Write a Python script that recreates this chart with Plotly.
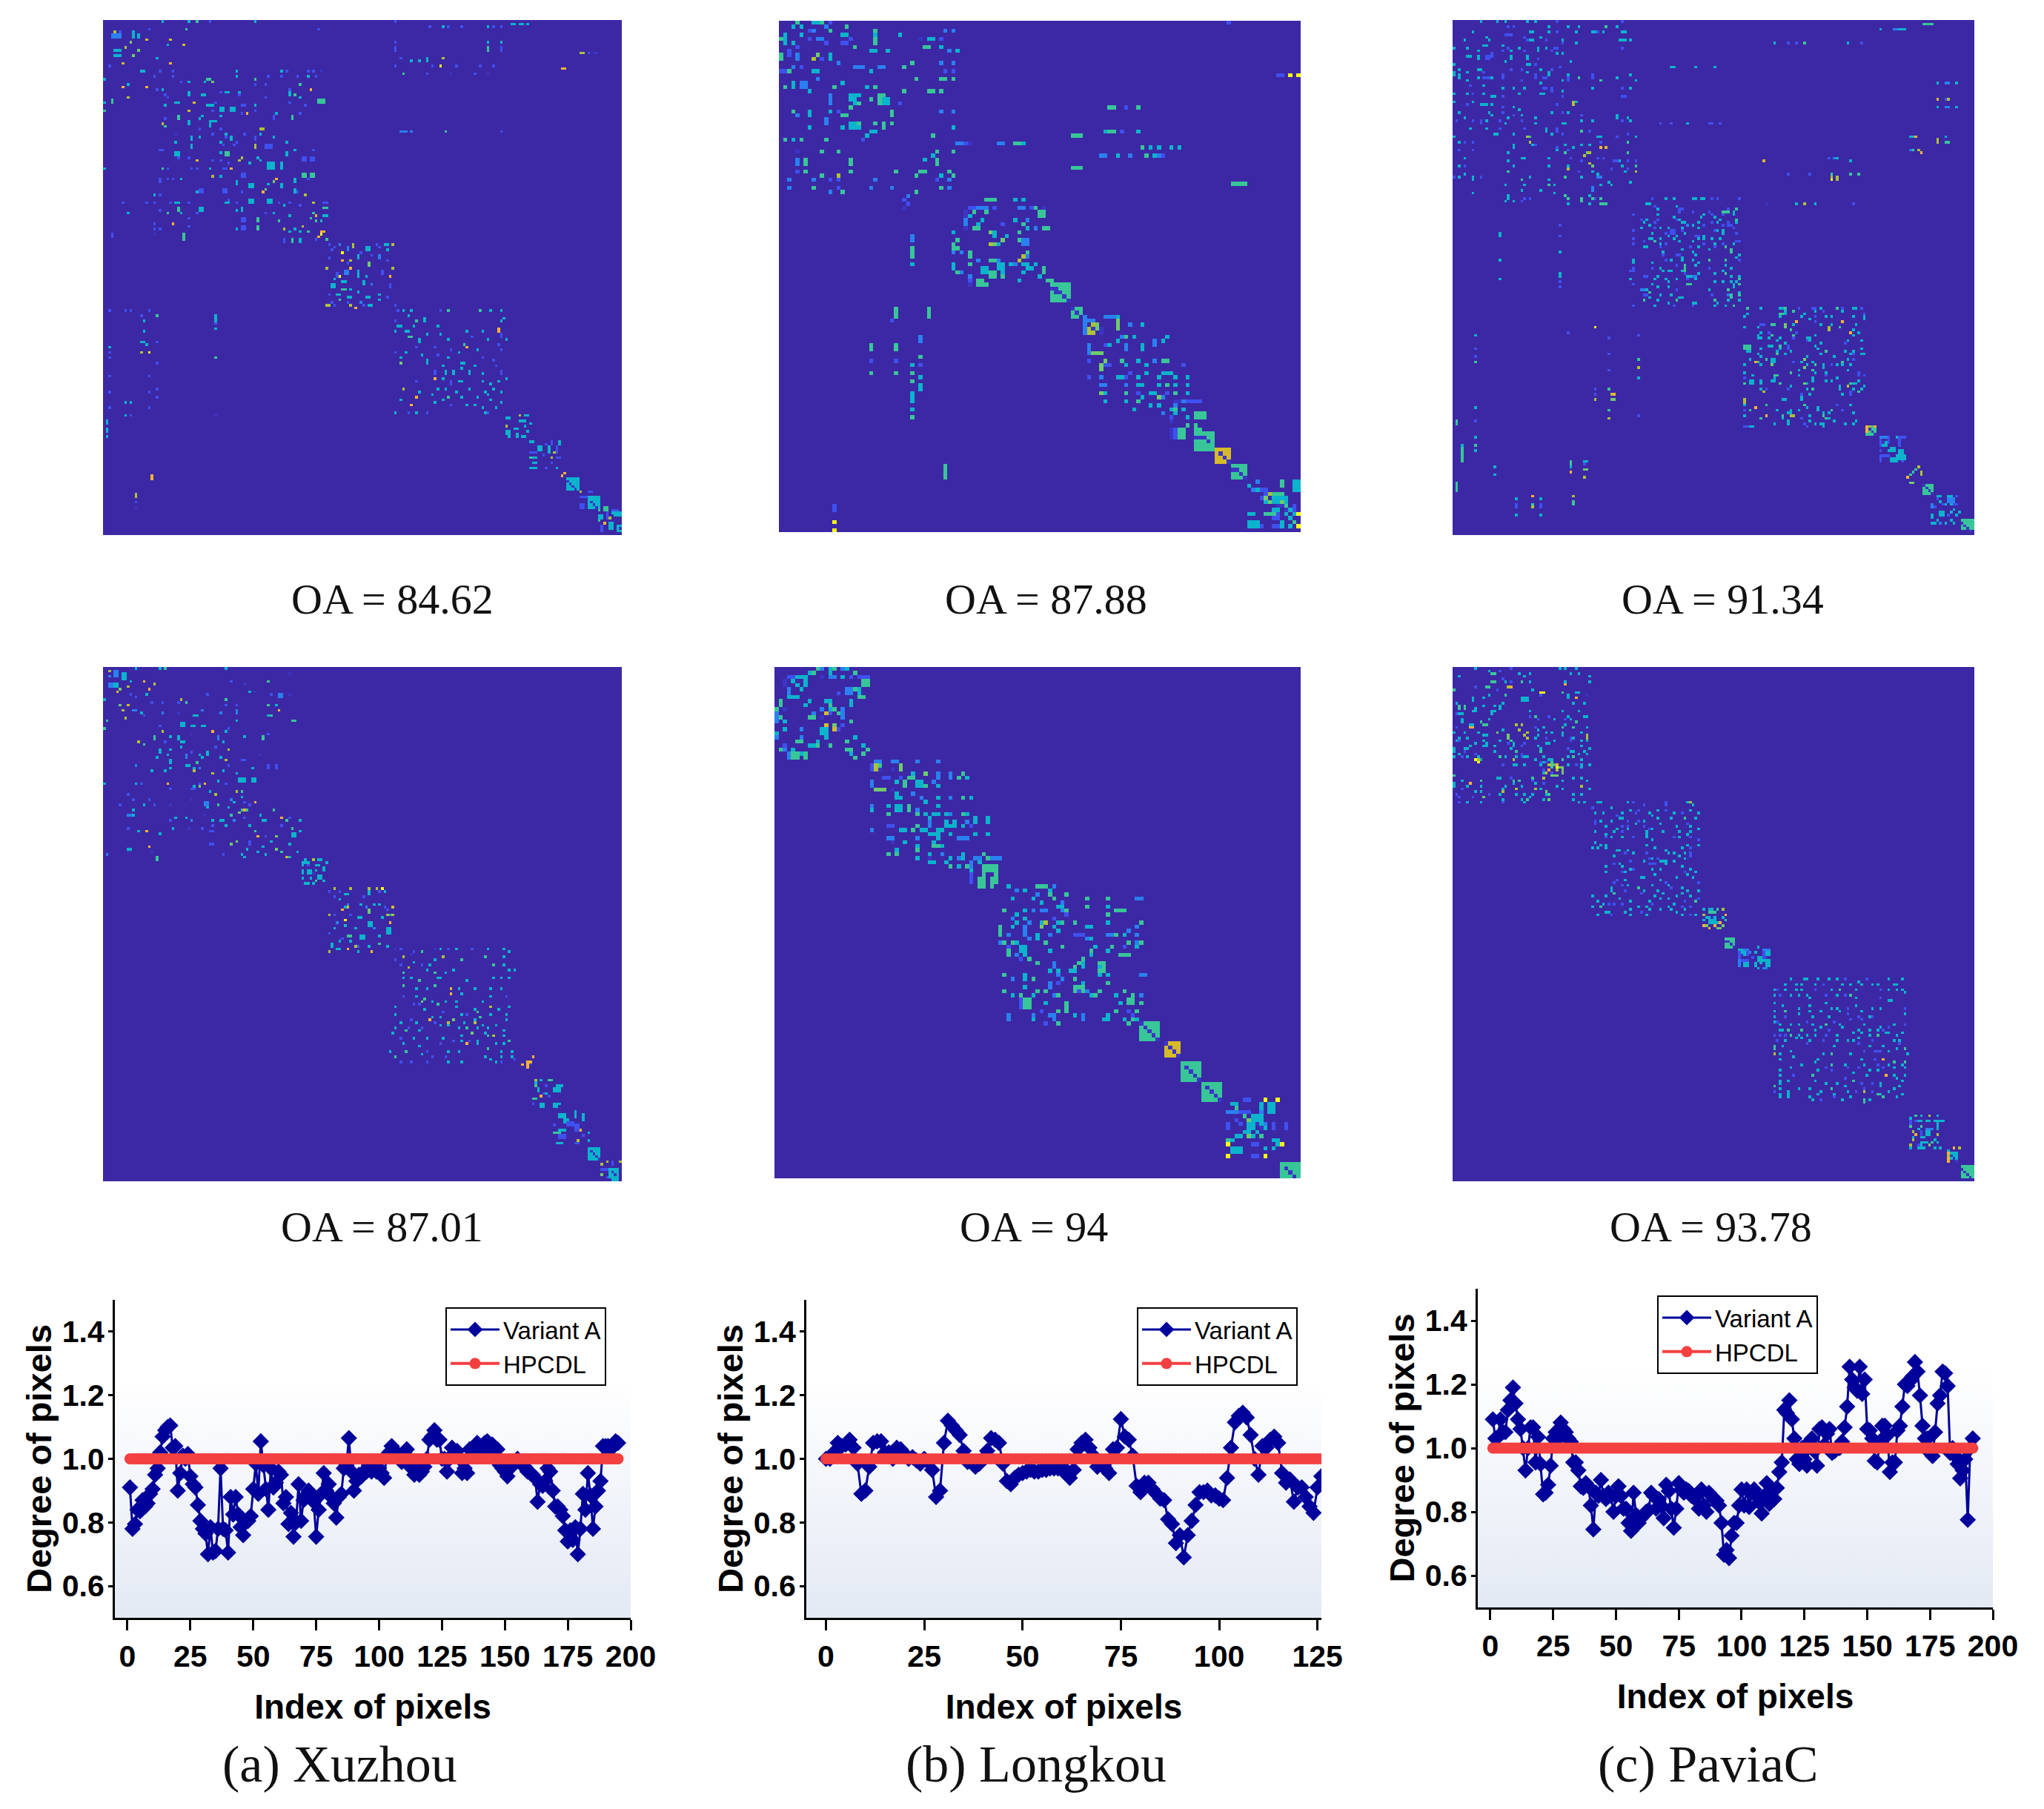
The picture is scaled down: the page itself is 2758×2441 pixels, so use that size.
import numpy as np
import plotly.graph_objects as go

WIDTH = 2758
HEIGHT = 2441

# matrix levels
D, B, L, C, T, G, O, Y, R, W = 0.07, 0.14, 0.25, 0.38, 0.5, 0.6, 0.72, 0.8, 0.88, 1.0

PARULA = [[0, "#3C28A4"], [0.07, "#3B35C4"], [0.14, "#3F50F0"], [0.25, "#2A80F0"],
          [0.38, "#0BB4CC"], [0.5, "#38C698"], [0.6, "#6FCB6C"], [0.72, "#ADC236"],
          [0.8, "#D6BA2A"], [0.88, "#FCB235"], [1, "#F9FB15"]]

# matrix cells: (col, row, level) or (col, row, level, width, height)
a1_cells = [
    (22,0,C),(32,0,C),(35,0,T),(40,0,B),(57,0,C),(17,3,B),(4,4,O),(6,4,B),(3,5,L,4,2),(11,4,C,1,3),(13,5,C,1,2),(31,3,T,1,1),(81,3,B),
    (16,7,Y),(25,7,Y),(10,8,G),(8,10,O),(24,9,C),(30,9,Y),(13,11,G),(4,11,C,3,1),(4,13,C,3,1),(11,13,G),(20,14,C),(7,16,Y),(25,16,R),(2,17,B),
    (14,19,C,2,1),(21,19,B),(26,19,B),(50,19,C),(67,19,C),(69,19,B),(77,19,B),(79,19,B),(82,19,D),(19,21,B),(26,21,B),(50,21,C),(62,21,B),(67,21,B),(73,21,B),(77,21,C),(80,21,B),
    (0,22,C),(39,22,T,2,1),(57,22,T),(29,23,B),(32,23,C),(38,23,C),(41,23,G),(9,24,C),(61,24,B),(57,24,B),(74,24,T),(7,25,R),(16,25,R),(20,26,B),(22,26,C),(78,26,R),(70,26,B),
    (32,27,C,1,2),(44,27,B),(46,27,C,2,1),(51,27,C),(70,27,C,1,2),(23,28,B),(37,28,C,2,1),(51,28,B),(72,28,T),(9,29,O),(61,29,B),(74,29,C),(24,29,B),(3,30,T,1,2),(81,30,T,3,2),
    (0,31,C),(27,31,C,2,1),(34,31,Y),(70,31,B),(42,31,B),(23,32,C),(39,32,C,3,1),(52,32,B,2,1),(57,32,C),(76,32,B),(44,33,C,2,2),(48,33,C,2,2),(0,34,T),(32,34,Y),(41,34,B),(57,34,B),
    (54,35,R),(52,35,B),(65,35,C),(74,35,B),(28,36,T,1,2),(37,36,C),(44,36,C),(64,36,B,1,2),(71,36,T,1,2),(23,37,B),(36,37,C),(40,38,C,3,1),(22,39,O),(23,40,T),(32,38,C,1,2),(40,39,C,1,2),
    (59,41,O,2,1),(36,41,B),(44,41,B),(59,43,C),(46,43,C),(53,43,B),(41,43,B),(27,43,D),(33,44,C,1,2),(36,44,C),(46,44,B),(48,44,C,1,2),(57,44,B,1,2),(64,44,C),(27,46,C),(44,46,C),(50,46,B),(69,46,C),
    (33,47,C,1,2),(45,47,B),(49,47,B),(57,47,O,1,2),(61,47,B,3,2),(21,49,B,2,1),(72,49,C),(79,49,B),(27,50,C,2,2),(44,50,C),(46,50,T,2,2),(69,50,C,1,2),(28,52,B),(32,52,B),(52,52,O),(51,53,O),(58,52,C),
    (75,52,B,2,2),(78,52,B,2,2),(35,53,Y),(41,53,B),(44,53,B),(59,53,C),(62,54,C,3,3),(67,54,C,1,3),(55,54,C),(47,54,B),(0,56,C),(22,56,T),(24,56,B),(33,56,B),(35,56,B),(40,56,C),(45,56,B,2,1),(48,56,R),
    (41,59,O),(44,59,C),(52,58,B,2,2),(75,58,T,2,2),(78,58,T,2,2),(21,60,B,1,2),(24,60,B),(26,60,B),(29,60,C),(65,60,R),(64,61,G),(72,60,C,1,2),(77,60,B),(50,61,C,1,2),(55,62,C,2,2),(62,62,C),(67,62,C,1,2),
    (36,64,B,2,2),(45,64,B,2,2),(61,64,G),(72,64,C,1,2),(60,65,R),(35,65,C),(52,65,B),(73,65,B),(21,66,B),(19,66,C),(76,66,O),(55,68,C,2,2),(62,68,C,2,2),(47,68,B),
    (19,69,B),(66,69,B),(70,69,B),(79,69,O),(83,69,B,2,1),(7,69,B),(16,69,B),(25,69,B),(27,69,C,2,1),(32,69,B),(46,69,C,2,1),(50,69,B),(28,71,T,1,2),(68,70,C),(74,70,B),(83,71,T,2,1),(36,71,C,2,2),(52,71,C,1,2),
    (21,72,B),(50,72,C),(61,73,B),(64,73,C),(79,73,T),(9,73,C),(24,73,T),(29,73,C),(35,73,B),(70,74,C),(80,74,Y),(83,74,C,2,1),(52,75,B,2,2),(58,75,T,1,2),(32,75,B),(78,75,T),(19,77,B),(66,76,T),(80,76,T),(82,76,C),
    (26,77,R),(52,78,B,2,2),(58,78,T,1,2),(75,78,O),(32,78,B),(19,79,B),(21,79,B),(68,79,O),(50,79,C),(72,79,C),(70,80,C),(74,80,C),(77,80,T),(82,80,R,2,1),(3,81,B,1,2),(30,81,T,1,3),(19,81,D),(82,81,W),(81,82,R),
    (68,83,B,1,2),(71,83,T,1,2),(74,83,C,1,2),(80,83,B),(84,83,T),
    (85,85,B),(89,85,L),(94,85,O,1,2),(103,85,B),(106,85,C,2,1),(109,85,O),(87,86,B),(92,86,L,1,2),(99,86,C,2,2),(86,87,B),(104,86,B),(107,87,C),(90,88,W),(97,88,B),(85,90,B),(96,89,C,1,2),(101,89,B),(104,89,L,1,2),
    (90,91,R),(93,91,O),(100,92,G,1,2),(107,91,B),(84,94,O),(92,92,B),(93,94,R),(109,94,O),(88,96,B,1,2),(91,95,L,2,2),(96,95,C,1,3),(99,97,C),(105,95,B,1,2),(108,97,R),(89,97,W),(87,98,C),(90,99,C,2,1),(86,100,C,2,2),
    (98,99,C,1,2),(101,100,L),(108,100,B,1,2),(90,102,T,2,1),(93,102,C),(96,103,C),(85,104,B),(88,104,C,2,1),(92,105,C,2,1),(99,105,C,2,1),(104,104,C),(107,105,B),(89,106,T),(86,107,B),(92,107,B),(97,107,L),(104,106,C),
    (84,108,O,2,1),(87,108,B),(93,108,O),(98,108,B),(100,108,C,2,1),(110,108,B),(95,109,R),
    (111,110,B),(113,110,C),(116,110,C),(127,110,B),(130,110,T),(142,110,T),(146,110,C),(150,110,C),(110,114,B),(115,112,C),(118,114,T),(121,113,C,1,2),(150,114,C),(151,113,C),(149,117,R,1,2),(111,116,C,2,1),(117,116,C),(126,116,C),
    (110,118,C),(114,118,C,2,1),(122,119,C),(127,119,C),(137,118,C),(143,118,C),(150,119,B,1,2),(115,120,T,2,1),(119,121,C,1,2),(130,121,C),(139,120,B),(145,121,C),(152,121,C),(149,123,B),(118,124,B),(136,123,T),(125,124,B),(137,124,R),
    (110,126,B),(114,126,C),(131,125,B),(134,126,C),(141,125,C),(150,125,B),(112,128,C),(120,127,C),(126,127,B),(143,128,B),(112,130,G),(130,128,C),(147,129,B),(122,129,C,1,2),(135,130,C,2,1),(140,131,C),(128,131,C),(148,131,B),
    (125,133,B,1,2),(129,133,C,1,2),(132,133,C,1,2),(135,132,C),(138,133,C,1,2),(143,134,C),(150,133,B,1,2),(118,137,B),(125,136,R),(131,137,B,1,2),(134,137,C,2,1),(128,136,C),(143,137,C),(149,137,C),(152,136,C),(146,138,C),
    (113,140,O),(119,141,C),(126,140,C),(129,140,C),(133,141,C),(138,140,C),(144,141,C),(147,140,C),(150,141,C),(118,143,R),(124,142,C),(130,143,T),(135,143,C),(141,143,C),(145,142,C),(112,144,C),(128,144,C),(140,146,C),
    (146,144,C),(150,145,C),(116,146,R,1,1),(125,145,C),(131,146,B),(137,146,C),(143,147,C),(148,147,C),(110,149,C),(115,149,B),(118,149,C),(122,149,B),(145,149,B),(144,149,C),
    (152,151,C,2,1),(157,150,O),(159,150,C,2,1),(157,152,C,3,1),(161,153,C),(152,154,O),(155,155,C,2,1),(159,154,C),(152,156,C,2,2),(156,157,C,1,2),(158,158,C,2,1),(160,156,C,1,1),(153,158,C),
    (161,160,C,2,1),(169,160,B,1,2),(172,160,C,1,2),(167,161,B),(164,162,C,2,2),(168,162,C,1,3),(171,162,B,1,3),(161,164,B,3,1),(170,164,O),(162,166,C,2,1),(161,166,T),(166,165,B),(169,166,O,1,1),(171,166,B,2,1),(162,168,C,2,1),(169,168,B),(161,170,C,3,1),(167,170,B),(171,170,C),
    (174,172,R),(173,173,R),(175,174,C,5,5),(175,175,D),(176,176,D),(177,177,D),(178,178,D),(180,179,O),(183,179,B,2,1),(180,181,B,3,1),(183,181,C,5,5),(184,183,D),(185,184,D),(186,185,D),(180,184,B,2,2),
    (187,186,T),(189,185,T,2,2),(192,186,B,3,1),(192,187,C,4,1),(187,188,C,2,2),(190,187,B,1,3),(193,188,C,3,1),(191,189,O),(189,191,R),(187,190,T),(188,192,B,1,3),(191,191,C,2,3),(194,192,C,2,3),(195,193,D),
    (110,0,B),(123,2,B,1,1),(128,2,C),(130,2,B),(135,2,B),(145,2,C),(147,2,B),(150,2,B),(154,1,C,2,1),(157,1,C,2,1),(160,1,C),
    (110,8,B),(145,8,C),(150,8,C),(110,10,B,1,2),(145,10,T,1,2),(150,10,B,1,2),(112,14,B),(116,15,C),(119,15,C),(122,14,C,1,2),(128,14,O),(110,17,B),(124,17,B),(127,17,W),(133,17,B),(142,17,B),(147,17,B),(180,12,O,2,1),(183,12,B),(185,12,D,2,1),(173,18,R,2,1),
    (113,20,T),(122,20,B),(131,20,D),(140,20,B),(145,20,D),(112,42,L,3,1),(116,42,L),(129,42,T),(150,42,B),
    (2,110,B),(8,110,B),(10,110,B),(17,110,B),(14,112,B),(20,112,T),(42,112,C,1,3),(42,115,B),(15,114,C),(42,117,C),(15,118,C),(14,122,C,2,1),(16,123,C),(20,122,B),(2,124,C),(2,126,B),(2,128,B),(14,126,O),(17,126,W),(42,128,T),(20,130,B),
    (2,135,B),(17,135,B),(20,140,B),(2,141,B),(17,141,B),(20,143,B),(8,145,C),(10,145,C),(2,147,B),(17,147,B),(8,150,C),(10,150,B),(42,150,D),(1,152,C,1,2),(1,155,C,1,2),(1,158,C),(18,173,R,1,2),(12,180,O,1,2),(12,183,B),(12,185,D),
]

a2_cells = [
    (12,0,C),(21,0,C),(23,0,T),(46,0,C),(2,1,O),(4,1,L,2,3),(7,2,C,2,3),(2,3,L),(2,6,L,2,2),(4,6,C,2,2),(10,5,C),(15,5,R),(19,6,O),(6,8,G),(9,7,O),(5,9,Y),(17,8,R),(62,5,T),(70,2,D),(48,5,B),(53,6,D),(10,10,B),(16,10,C),(12,11,B),(39,10,B),(55,9,C),(57,9,D),(63,10,B),(66,10,L,2,2),(70,10,D),
    (0,12,C),(6,14,G),(9,14,Y),(18,13,B),(22,13,B),(28,13,B),(29,12,O),(31,13,T),(46,12,T),(46,14,B),(50,14,B),(62,14,T),(65,14,C),(7,16,O),(11,16,L,2,1),(50,16,L,1,2),(66,16,R),(14,17,C),(22,17,L),(28,17,D),(37,16,L),(44,17,L),(62,18,C),(63,18,T),(1,20,T),(8,19,O),(15,18,B),(34,18,C,2,1),(71,20,T,2,1),(50,20,C),
    (0,23,T),(21,22,B),(29,21,C,2,2),(33,22,C,2,1),(37,22,C,2,1),(41,24,R),(47,23,B),(22,24,O),(19,26,T,1,2),(25,26,C,1,1),(28,26,C,1,2),(33,25,D),(43,26,L,1,2),(46,24,C),(53,26,C),(60,26,T,1,2),(62,25,B),
    (13,28,O),(15,29,T),(23,28,B),(29,28,C,2,1),(45,28,C),(21,31,C,1,2),(25,31,C),(29,30,C),(33,32,B),(36,33,C),(39,32,C,1,2),(42,30,B),(47,31,O),(20,34,C),(24,33,C),(31,33,L,1,2),(37,34,C),(44,34,C),(59,33,D),
    (25,35,C,1,2),(31,37,C,2,1),(35,36,T),(46,35,O),(52,35,B,2,1),(12,37,L),(25,38,C),(34,38,C),(36,38,L),(47,37,B),(56,38,C),(62,37,B,1,2),(65,37,B,1,2),(18,39,C),(23,39,C),(34,39,O),(41,40,O),(45,39,C),(50,40,C),
    (51,42,C,3,2),(56,42,C,2,2),(12,44,C),(14,44,B),(24,44,R),(34,45,C),(36,44,B),(38,44,R),(43,43,C),(46,44,B),(0,44,C),(25,46,B),(33,46,B,2,1),(36,45,G),(40,47,C),(50,47,O),(42,48,O),(52,47,T),(52,49,C),
    (9,48,B),(11,50,B),(17,50,B),(6,52,B),(15,52,C),(19,52,B,1,1),(25,52,D),(33,50,D),(38,51,L,2,2),(48,50,L),(49,51,C),(53,51,B),(55,52,B),(57,51,R),(39,53,C),(43,52,T),(47,53,C),(54,54,T),(11,54,C),(11,56,C),
    (52,54,T,2,1),(53,54,R),(64,54,T),(51,55,G),(48,56,T),(44,58,C,2,1),(41,58,C),(59,56,C,1,1),(9,56,L,2,1),(27,57,C),(38,56,D),(25,58,B),(31,57,C),(33,58,L),(49,58,L),(41,60,B,1,1),(53,57,B),(55,60,C),(60,58,C,2,1),(67,57,R),(70,57,B),(69,58,T),(74,58,C),
    (9,61,B),(13,62,C),(16,62,R),(21,63,C),(26,61,C),(32,61,D),(37,61,B),(40,62,B,2,1),(46,60,C),(57,62,T),(67,60,B),(71,61,T),(74,62,C),(65,64,G),(61,64,B),(55,66,B,1,2),(50,66,G),(58,64,R),(63,66,C),(71,63,C,2,2),
    (40,67,B,2,1),(48,67,G),(54,69,C),(60,68,C,1,1),(65,69,G),(67,70,T),(70,67,C),(73,70,C),(9,69,C,2,1),(17,68,R),(18,70,D),(9,70,D),(58,70,C),(52,71,C),(61,71,C),(20,72,T,1,2),(1,71,L,1,1),(53,72,C),(45,71,B),(70,72,C),(69,72,Y),
    (75,74,C,3,1),(76,73,C),(79,73,O),(81,73,C,2,1),(75,75,C),(77,75,B),(80,75,C,2,1),(84,74,C),(75,77,C,1,2),(77,77,C,2,2),(80,77,C),(83,76,C,1,2),(79,78,D),(81,79,C,2,2),(75,80,C),(78,80,C),(80,81,T),(83,81,C),(76,82,C,2,1),(79,82,C),
    (85,85,B),(87,84,O),(89,85,B),(93,84,O),(100,84,O),(103,84,O),(105,84,W),(87,87,B),(91,86,C,2,1),(100,85,C,1,2),(104,85,B),(106,85,C),(89,88,C),(98,87,B),(92,90,L),(91,91,C,2,1),(97,90,C),(99,91,L),(104,90,C),(109,91,Y),(106,91,B),
    (90,92,R),(92,91,Y),(102,90,C),(100,92,G,1,2),(107,92,B),(107,94,O),(108,94,C),(85,94,O),(87,94,B),(93,94,B),(91,96,W),(96,95,C,2,1),(105,95,C),(109,94,O),(88,97,L),(91,98,C),(100,97,C,2,2),(108,97,R),(87,99,C),(107,99,C,2,3),
    (85,101,B),(95,99,C),(102,99,L),(92,102,T,2,1),(97,102,C,2,2),(89,104,C),(104,102,C),(86,105,C,1,2),(90,103,B),(93,104,C),(100,106,C),(96,106,B),(104,105,T),(107,106,C),(88,107,C,2,1),(92,107,R,1,1),(95,106,O),(85,108,O),(101,108,R),(96,108,C),
    (110,107,D),(112,107,B,1,1),(116,109,D,1,1),(117,108,B),(120,108,T),(125,107,D),(127,107,C),(130,107,B),(133,107,C),(139,107,B),(145,107,C),(151,107,C),(110,111,B),(113,110,O),(117,112,C),(125,111,C),(128,110,O),(135,111,T),(144,110,T),(151,110,C),(153,108,C),
    (112,113,B),(115,114,O),(120,113,B),(123,113,C),(147,113,T),(151,113,C),(153,115,C),(113,116,T),(122,115,C),(125,116,T),(129,116,C),(132,115,C),(126,118,C),(150,118,C),(153,118,C),(113,118,C),(116,118,C),(119,119,T),(127,118,C),(137,119,C),(147,118,C),(155,115,C),
    (113,121,T),(118,122,C),(122,122,C),(125,121,T),(131,122,Y),(134,122,C),(140,122,C),(146,122,C),(150,122,C),(113,125,B),(118,125,C),(120,127,G),(121,126,T),(131,124,R),(135,124,C),(146,125,C),(152,125,B),(117,128,B),(124,127,C),(126,128,T),(129,127,C),(133,127,C),(143,127,C),
    (110,129,C),(119,128,B),(121,130,C),(128,131,B),(133,129,C),(140,130,C),(141,131,T),(146,129,O),(149,130,C),(153,129,C),(110,132,C),(124,133,C),(127,133,C),(135,132,C),(137,132,B),(142,133,T),(146,132,C),(152,132,C),(116,134,B),(123,134,R),(130,135,O),(132,134,G),(140,134,C),
    (112,135,C),(118,135,C),(125,135,B),(130,136,C),(136,135,C),(140,135,O),(143,136,C),(152,134,C),(110,137,C),(115,137,B),(120,137,B),(127,136,C),(134,137,C),(137,137,T),(141,137,C),(145,137,C),(148,136,C),(151,138,C),(109,139,C),(114,138,T),(119,138,C),
    (135,140,C),(139,139,G),(144,139,C),(147,140,O),(151,140,C),(112,141,B),(117,141,C),(122,141,C),(128,141,C),(132,142,B),(135,142,C),(138,142,B),(141,142,C,1,2),(145,140,T),(153,142,T),(113,143,C),(119,144,C),(127,143,B),(137,143,R),(148,143,C),(151,143,C),
    (108,146,C),(114,146,T),(122,146,B),(130,146,C),(134,146,C),(145,145,T),(150,146,C),(154,146,C),(110,148,T),(120,147,C),(124,148,B),(129,148,B),(144,148,C),(146,149,C),(150,148,C),(154,148,C),(112,150,B),(116,150,B),(122,150,B),(130,150,C),(135,150,C),(148,150,C),(150,150,B),(155,149,B),
    (160,150,R,2,2),(161,151,D),(158,151,R),(160,152,R),(162,148,R),(163,157,O),(163,159,T),(165,157,C),(168,157,T,2,1),(163,158,C),(164,160,C,1,2),(167,159,B,1,1),(171,159,C,3,1),(170,160,C,3,2),(167,162,C),(162,164,T,2,1),(165,163,R),(166,162,B),(168,163,B),(162,166,B),(165,166,C,2,2),(170,166,C,3,1),(170,167,C,2,1),
    (172,170,C,3,2),(170,174,T),(174,172,C,2,2),(178,169,C,1,3),(181,170,C,1,3),(175,173,B,3,2),(170,174,B),(172,176,C,3,1),(178,174,B,2,3),(180,176,R),(170,177,T,3,1),(172,178,B,3,2),(171,181,C,3,1),(178,181,B,2,1),(179,180,O),(181,178,B),(183,177,C),(183,180,C),
    (183,183,C,5,5),(184,184,D),(185,185,D),(186,186,D),(187,187,D),
    (188,189,O),(190,188,O),(192,188,B,1,2),(195,188,O),(188,191,B,4,1),(191,191,C,4,4),(192,192,D),(193,193,D),(188,193,G),(190,194,B,1,1),(192,194,C,3,2),
]

b1_cells = [
    (4,0,T),(8,0,C,2,1),(10,0,T),(12,0,B),(3,1,C),(5,1,C),(11,1,L),(16,1,T),(8,2,L,1,1),(7,2,B),(12,2,T),(23,2,T,1,1),(40,2,L),(42,2,L),(1,3,C),(5,3,C),(15,3,C,2,1),(23,3,C),(29,3,C),(23,4,T),
    (0,4,T),(1,4,C),(7,4,B),(9,4,L,2,1),(17,4,B),(34,4,D),(36,4,C,2,1),(39,4,B),(1,5,C),(3,5,C),(11,5,B),(15,5,B,2,1),(18,6,T),(4,6,B),(23,5,T),(35,6,T,2,1),(39,6,C),
    (2,7,B,1,2),(22,7,C,2,1),(26,7,C),(41,7,L),(43,7,C),(0,8,T,1,2),(4,8,L,1,2),(9,8,G,1,1),(12,8,C,1,2),(8,9,O),(10,9,B),(14,10,L),(3,11,L),(5,11,B),(18,11,L,3,1),(24,11,L,2,1),(30,11,T),(32,10,T),(39,10,L),(42,10,L),
    (1,12,B),(0,12,B),(2,12,T),(8,12,C,2,1),(22,12,C),(40,12,B),(42,12,B),(9,14,L),(33,14,T),(39,14,T,2,1),(42,14,T),(1,16,T),(3,15,C,1,2),(5,15,L,2,2),(13,16,T),(15,15,C,1,1),(23,16,T),(7,17,C),(30,17,T),(21,16,C),(36,17,T,2,1),(39,17,T),
    (12,18,L,1,3),(19,18,C),(17,18,C,2,2),(22,19,T),(24,18,T,2,3),(25,19,C,2,2),(18,20,T,2,1),(18,20,C),(17,21,T),(29,20,B),(3,22,T),(4,23,L),(7,22,C,1,2),(12,22,C),(27,22,T),(39,22,L),(42,22,L),(14,22,B),(15,23,T,2,1),(27,23,T,1,1),
    (11,24,L,1,2),(17,25,C,3,2),(19,25,T),(23,25,T),(27,25,T),(25,25,T),(7,26,C),(15,26,C),(42,26,C),(22,27,C,2,1),(25,26,T),(21,28,C),
    (1,29,T),(3,29,C),(5,29,T),(11,29,T),(20,29,B),(37,28,T),(44,30,L),(46,30,D),(53,30,L,2,1),(57,30,T,3,1),(59,30,C),
    (4,32,D),(10,32,T),(14,32,T),(38,32,T),(42,32,T),(4,34,L,1,2),(6,34,T,1,2),(17,34,T,1,2),(35,34,C),(37,33,C),(38,34,T,1,2),(4,37,B),(6,37,T),(28,37,T),(10,38,T),(14,38,O),(17,37,T),(34,37,T,2,1),(39,38,C),(41,37,T,1,1),
    (2,39,L),(8,39,L),(12,39,B),(14,39,B),(23,39,L),(33,38,T),(38,39,B),(41,39,L),(42,38,T),(2,41,L),(8,41,T),(12,42,L),(14,41,B),(15,42,T),(22,41,L),(27,41,L),(33,42,T),(39,41,T),(41,41,L),(31,43,L),
    (31,45,B),(50,44,T,2,1),(52,44,T),(57,44,C),(59,44,C),(46,46,B,2,1),(48,46,L,3,1),(62,46,T),(52,46,B,1,1),(58,46,L,2,1),(61,46,B),(64,46,D,1,1),(45,47,D,1,2),(47,47,T),(50,47,T),(63,47,T,2,2),(46,48,C),(49,49,C),(57,49,C),(60,49,C),
    (45,49,L,1,2),(48,50,C),(54,50,B),(60,49,L),(59,50,T),(45,51,B),(47,51,T,2,1),(64,51,T,2,1),(42,52,C),(51,52,G),(52,52,C),(60,51,C),(62,51,L),(45,51,D),(55,53,C),(58,52,T),(43,54,T,1,1),(42,55,T,1,2),(52,53,C),(51,55,O),(53,55,C),(58,54,T),
    (59,54,L,2,2),(60,55,L),(52,55,G),(54,54,G),(32,53,L,1,2),(43,56,T),(60,57,T),(44,57,L,1,1),(46,57,T,1,2),(42,57,L),(32,56,T,1,3),(59,58,O),(58,59,O,1,1),(60,58,L),(51,59,T,2,1),(48,59,L),
    (53,59,L,1,1),(57,60,L,1,1),(32,60,C),(56,60,C),(59,60,C,2,1),(42,60,C,1,2),(46,60,T),(44,62,L),(49,61,C,2,2),(53,60,C,2,2),(60,61,C),(62,60,C),(64,61,T,1,2),(43,62,T),(51,62,T,2,2),(59,62,C),(61,61,C),(54,62,C),(46,63,L),
    (46,64,B),(48,64,T,2,2),(50,65,T),(54,63,T),(58,64,C),(66,64,T),(63,63,C),(65,64,T,1,1),(46,65,D),(66,65,C),
    (66,65,T,5,5),(66,66,D),(67,66,D),(67,67,D),(68,67,D),(69,68,D),(70,69,D),(66,65,T),(67,65,T),
    (72,71,T),(71,72,T),(71,71,D),(73,71,T,1,2),(71,73,T,2,1),(72,72,D),(74,74,L,1,1),(74,75,L,1,3),(75,74,L,2,1),(76,75,O,2,2),(75,76,O,2,2),(76,76,D),(77,76,G),(77,75,G),(74,73,L),(79,73,L,3,1),(82,73,C,1,1),(82,74,G,1,3),(78,76,D,1,2),
    (85,75,L),(88,75,C),(84,78,T),(83,78,L),(86,78,C),(82,79,C),(80,80,C),(78,82,C),(79,80,B),(75,80,L,1,3),(76,82,G,3,1),(84,80,L,1,2),(88,80,C,1,2),(91,79,L,1,2),(93,79,C),(94,78,C),(79,84,G,1,1),(78,85,G,1,2),(79,85,B,2,1),(75,84,B),(83,84,T),(84,85,C),
    (87,84,C),(89,85,C),(91,84,L),(93,84,T,2,1),(85,87,C),(89,87,C),(82,88,C,2,1),(75,88,B),(78,88,L),(84,88,B),(85,87,B),(87,88,C),(98,85,B),(93,87,C),(94,87,C),(95,87,C),(92,88,C,1,1),(96,88,C),(99,88,C),(88,90,C),(92,90,C),(94,90,T),(96,90,C),(99,90,C),
    (78,90,L,1,1),(79,90,L),(84,90,L),(87,90,C),(78,92,G,1,1),(79,92,C),(84,92,T),(87,92,B),(91,92,C),(94,92,B),(99,92,C),(92,95,C),(95,96,C),(96,95,L),(88,93,C),(90,92,C),(87,94,T),(84,94,C),(92,93,G),(93,93,L),(79,94,C),(86,96,C),(90,95,C),(96,92,T),
    (96,94,D,3,1),(98,94,L,1,1),(99,94,B),(100,94,B,3,1),(93,97,T),(96,96,T),(98,96,C),(96,97,C,1,1),(93,97,L),(99,98,C),(101,97,T,3,2),(99,100,T),(95,98,B,1,2),(95,99,D),(96,101,B,1,3),(95,101,D,1,3),(97,101,T,2,3),(101,100,T),(102,101,T),
    (101,102,T,5,5),(101,103,D),(102,103,D),(103,103,D),(104,104,D),(101,101,T),
    (106,106,Y,4,4),(106,106,Y),(107,107,D),(108,108,D),(109,109,D),(110,110,T,4,4),(110,111,D),(111,111,D),(112,112,D),(113,113,D),
    (116,114,L),(114,115,C),(116,116,C),(115,116,L),(117,116,B,2,1),(114,115,C),(122,114,T,1,2),(125,114,C,2,3),(117,118,B),(118,117,B,1,1),(120,117,T,3,1),(118,118,G),(119,117,O),(118,119,C,1,1),(120,118,C,4,2),(119,119,G),(122,119,G),(121,120,D),(123,120,T),(122,120,D),(120,121,C,2,1),(123,121,D),
    (124,121,C),(123,122,C),(125,120,B,1,2),(118,122,T,3,1),(120,122,T),(121,122,B),(114,122,C,2,1),(114,124,C,3,2),(120,123,B,2,1),(122,124,C,1,1),(125,122,C,2,1),(124,123,C),(125,124,T),(126,122,W),(126,125,W),(122,125,C),(124,125,C),(117,125,B),(120,125,B,2,1),
    (109,0,B),(121,13,B,2,1),(124,13,W),(126,13,W),(80,21,T,2,1),(84,21,B),(87,21,T),(79,27,C),(80,27,T,2,1),(83,27,B),(87,27,C),(71,28,T,3,1),(43,30,L),(45,30,B),(53,30,L),(88,31,T),(90,31,C),(92,31,C),(95,31,C),(97,31,C),
    (78,33,L,2,1),(82,33,C),(85,33,L),(89,33,T,1,1),(91,33,C),(92,33,L,2,1),(93,33,B),(71,36,T,3,1),(110,40,T,4,1),
    (30,44,B),(30,46,D),(28,71,T,1,3),(36,71,T,1,3),(27,74,B),(22,80,T,1,2),(28,80,T,1,2),(34,78,L,1,2),(22,84,B),(28,84,B),(34,83,T),(34,85,B),(22,87,T),(28,87,T),(32,85,C),(32,87,T),(34,88,C),(32,89,T),
    (32,94,C),(34,90,C,1,2),(34,91,C),(32,92,C,1,1),(32,93,C),(32,96,C),(32,98,T),(40,110,T,1,4),(13,120,B,1,2),(13,124,W),(13,126,W),
]

b2_cells = [
    (10,0,T),(11,0,L),(13,0,C),(14,0,T),(16,0,L),(17,0,C),(8,1,C),(9,1,T),(13,1,C),(19,1,T),(3,2,B,2,1),(5,2,C,3,1),(11,2,D),(13,2,L,2,1),(16,2,C),(18,2,B),(20,2,B),(21,2,B,2,1),(2,3,D,1,2),(4,3,C),(7,3,C,1,2),(21,3,T,2,2),
    (3,5,L,1,2),(5,4,C),(6,5,C),(15,6,B),(17,5,L,2,2),(19,5,T),(20,5,C,1,2),(3,7,C),(4,7,C,2,1),(20,7,T,2,1),(8,8,C),(12,8,C,2,1),(1,8,T,1,2),(13,9,T),(18,8,C,1,2),(7,9,C),(11,10,L),(13,10,C),(0,10,T),(2,10,D),(14,10,T,1,1),(15,11,T,2,1),(16,10,L),
    (0,11,L,1,2),(1,12,T),(16,11,L,1,2),(8,12,T,2,1),(9,11,L),(11,12,D),(12,11,Y),(13,11,B),(18,13,T),(0,13,L,1,1),(2,13,C),(2,15,C),(6,15,L),(11,15,C,2,2),(14,14,G),(12,14,Y),(15,15,B),(16,14,B,1,1),(0,16,C,1,1),(14,15,Y),
    (0,17,L),(12,17,C),(10,18,C),(17,18,T),(19,17,C),(5,18,T,2,1),(6,17,L),(2,19,B),(8,19,C,2,1),(10,19,T),(13,19,T),(17,20,T,2,1),(4,20,C),(1,20,T),(18,21,C),(5,21,C,2,1),(2,20,L),(21,19,C),(3,21,L,1,2),(3,22,L),(4,21,T,2,2),(7,21,T),(7,22,T),(19,22,T,1,1),(21,21,T),(22,20,T),
    (24,23,L,2,1),(28,23,L,2,1),(34,23,L),(39,23,L),(23,24,B,1,2),(24,24,O,2,2),(25,24,T,1,1),(25,25,D),(30,24,G,1,2),(28,25,D,1,1),(33,26,C),(36,26,G),(39,26,L,1,2),(42,26,L,1,2),(45,26,T),(44,27,T),(46,27,C),(26,27,B,2,1),(30,27,B),(32,27,T),(33,27,T),
    (23,28,L,1,2),(29,28,C),(31,28,T,1,2),(34,28,C,2,2),(24,30,G,3,1),(38,28,L),(39,29,C),(28,30,D),(36,29,T),(29,31,C),(35,32,L,1,1),(39,32,C),(29,32,C,2,1),(33,31,L),(42,32,L),(45,32,T),(47,32,C),(23,34,L,1,1),(27,34,C),(29,34,C,2,2),(32,34,T,1,2),(34,35,L),(39,34,C,1,1),(36,33,C),
    (23,35,C),(27,36,T),(34,36,T),(36,36,C),(38,36,C),(39,36,C),(41,36,C),(45,36,T),(37,37,C),(42,36,L),(46,36,C),(41,38,C,1,2),(43,38,C,1,2),(37,38,L),(48,37,C,1,2),(51,37,C,1,2),(27,39,B,2,1),(30,40,C,2,1),(33,40,T),(34,39,T),(35,40,C,2,1),(37,39,L),(42,39,C),(45,39,C),(47,39,B),
    (23,40,L),(39,40,C,2,1),(46,38,L),(27,42,L,2,1),(31,43,C),(34,42,L),(37,41,C,3,1),(39,42,C),(42,41,C),(44,42,L,2,1),(48,41,C),(51,41,C),(28,43,D),(38,43,C),(46,42,L),(29,45,C),(34,45,T),(34,44,C),(38,44,T,2,1),(40,44,C),(29,46,T),(27,46,T),(34,47,C),(37,46,C,1,1),(40,46,L),(45,46,C),(44,47,L),
    (37,47,D),(42,47,C),(45,47,C),(37,48,C,2,1),(41,48,C),(48,47,L,2,1),(51,47,T),(50,46,T),(52,47,L,3,1),(47,48,L,1,2),(46,49,T),(42,49,T),(44,49,C),(49,48,C),(50,49,T),(47,50,C,1,1),(50,50,T),(51,49,T,3,2),(47,51,B,1,3),(50,51,T,1,1),(49,52,D,1,1),(49,52,T,2,3),(52,52,T,2,1),(53,51,T),(52,53,T,1,2),(53,53,T),
    (56,54,C),(63,54,T,3,1),(67,54,L),(60,55,C),(58,55,L),(66,55,C),(70,56,T),(63,56,L),(57,57,C),(75,57,T),(80,57,T),(62,57,C),(66,56,T),(67,57,T),(87,57,L,2,1),(69,58,L),(64,58,C),(60,60,C),(68,59,C,2,1),(55,60,T),(70,60,T),(58,61,C),(62,60,L),(75,59,T),(64,60,L,2,1),(69,60,L),(82,60,T,3,1),(80,61,T),
    (80,59,C),(70,61,B),(69,63,T,1,1),(57,62,L),(58,63,C),(60,62,C),(61,63,L),(64,63,C),(67,62,B),(72,63,T),(75,64,C,2,1),(80,63,C),(54,64,T,1,3),(57,64,C),(60,64,L,1,3),(64,64,G),(65,63,O),(67,64,C),(68,63,C),(87,64,L),(88,63,T),(68,65,C),(63,66,C),(66,66,L,1,1),
    (56,66,L),(61,67,L),(72,66,B,3,1),(75,67,L),(76,67,C),(80,66,L,2,1),(85,65,L),(82,66,T),(84,66,C),(87,66,L),(55,68,T),(63,67,C),(65,68,T),(87,68,L,2,1),(54,68,L),(57,68,T),(85,68,T),(58,68,C),(81,69,T),(87,69,C),(88,68,T,1,1),(56,69,B),(66,70,C),(84,69,B),
    (56,70,T,1,2),(59,69,C,2,2),(60,71,C),(69,69,T),(76,70,T),(77,69,C),(76,71,C),(80,70,C),(58,71,L),(59,72,B),(61,72,T),(83,71,T,3,1),(67,73,L,1,2),(63,73,T,1,1),(73,73,T),(74,73,C,1,2),(74,72,T),(78,73,T,2,3),(71,75,C,2,1),(78,76,C),
    (72,74,T),(78,74,C),(66,75,C),(68,75,C),(55,76,T),(57,77,L),(60,76,C,1,2),(72,77,T),(68,76,L,1,1),(80,76,C),(88,76,L,2,1),(62,77,T),(69,77,L,1,1),(80,78,T),(68,78,B),(72,79,T,3,2),(74,78,C),(66,78,L,1,2),(78,80,T),(77,81,T),(76,81,C),(75,80,L),
    (67,81,L),(60,79,C),(55,80,T),(57,81,C,1,1),(59,81,T),(62,81,C),(65,80,T),(63,80,T),(68,81,T),(73,80,B),(82,81,C),(84,80,T),(88,81,L),(83,83,T),(85,82,T,2,2),(86,81,T),(83,83,C),(59,82,B,1,3),(60,82,T,2,3),(70,83,T,1,3),(59,83,B),(65,83,C),(88,83,T),
    (64,85,B),(68,85,T),(72,86,C),(82,85,T),(86,86,B),(85,85,B),(87,85,T),(56,86,L,1,2),(62,86,L),(66,86,L,2,1),(74,86,L,1,2),(84,87,C),(79,87,C),(65,88,B),(68,88,T),(80,87,C),(86,87,T),(85,88,T),(87,87,C),(80,86,C),(62,87,C),(67,87,L),
    (88,88,T,5,5),(89,89,D),(90,90,D),(91,91,D),(92,92,D),(88,88,D,1,1),(94,93,Y,4,4),(95,94,D),(96,95,D),(97,96,D),(94,93,D),(98,98,T,5,5),(99,99,D),(100,100,D),(101,101,D),(102,102,D),(103,103,T,5,5),(104,104,D),(105,105,D),(106,106,D),(107,107,D),
    (113,107,B,2,1),(118,107,W),(121,107,W),(110,108,C,2,1),(111,109,T,1,1),(117,108,C,1,3),(119,108,C,2,3),(109,110,C,2,1),(112,110,B,3,1),(109,110,L,3,1),(117,110,L),(111,112,B),(113,111,T),(114,112,G),(115,111,C,3,3),(114,113,C,2,2),(116,113,D),(117,114,D),(118,113,C,1,2),(109,113,B,1,2),(112,113,B,1,1),
    (118,113,L),(120,113,B,1,2),(123,113,B,1,2),(113,115,C,2,1),(116,115,C,1,1),(110,117,C),(114,116,G,2,1),(109,117,T),(111,116,C,2,1),(115,116,C),(117,116,T),(120,117,C,2,1),(109,118,W),(122,118,W),(110,119,C,3,2),(115,118,B,2,1),(118,119,C),(120,119,C),(121,118,C),(109,121,W),(118,121,W),(115,121,B,2,1),
    (122,123,T,5,1),(122,124,T,5,3),(123,124,D),(124,125,D),(125,126,D),
]

c1_cells = [
    (10,0,C),(16,0,C),(19,0,C),(27,0,C),(30,0,C),(38,0,B),(62,0,B),(20,2,B),(22,2,B),(35,2,C),(42,2,C),(46,2,C),(56,2,T),(60,2,C),(173,1,T,4,1),(157,3,C),(162,3,L,2,1),(164,3,C,3,1),
    (7,4,C),(28,4,C,2,1),(20,5,B),(35,4,C),(38,4,B),(45,4,C),(51,4,C,2,1),(53,4,B),(55,4,C),(62,4,C,2,1),(12,6,C),(19,5,B,2,1),(21,5,B),(26,6,B),(32,6,C),(27,7,B),(34,7,B),(40,7,C),(4,7,C),(13,7,C),(28,7,C,2,1),(40,8,B),(45,8,C),(61,7,C,2,1),(63,7,C),(65,7,C),(118,8,C),(123,8,B),(126,8,B),(129,8,T),(145,8,C),(150,8,B),
    (0,10,C),(5,10,C),(11,9,C,2,1),(18,9,C),(20,10,B),(24,10,C),(31,10,C),(34,10,C),(37,10,B,2,1),(62,10,B),(9,11,C),(18,11,B),(21,11,C),(26,11,B),(31,11,C),(36,11,B),(38,12,C),(40,12,C),(5,13,C),(6,13,C),(9,13,C,1,2),(12,13,B,2,2),(14,12,B,1,2),(21,13,C,1,2),(27,13,C,1,2),(31,14,B),
    (0,16,C),(19,15,C),(27,16,C,2,1),(30,16,B),(43,15,C),(2,18,C),(9,18,C,2,1),(11,19,B,1,1),(21,18,B),(25,18,B),(32,18,C),(36,18,B),(39,17,B),(80,17,C,2,1),(89,17,C),(96,17,C),(0,19,C),(5,19,C),(18,20,B),(27,19,C),(30,20,B,1,2),(35,19,C),(42,20,C),(0,20,C),(2,20,C,1,2),(9,21,C),(11,21,B,3,1),(14,21,C),(18,21,B),
    (35,20,C),(42,21,B,1,2),(46,21,T),(51,20,B,1,2),(60,21,C),(65,20,C),(54,22,T),(67,22,C),(5,22,C),(25,22,B),(33,21,B,2,1),(32,23,C),(40,22,C),(178,23,C,1,1),(181,23,L,2,1),(185,23,C),
    (6,24,B),(11,24,B),(11,24,C,1,1),(18,25,C),(22,25,C),(26,25,C),(33,25,B,2,1),(36,25,B,1,2),(40,26,C),(62,25,B),(65,25,C),(51,25,C),(0,27,C),(5,27,C),(7,27,B,1,1),(11,27,C),(14,28,C,2,1),(18,28,B),(24,27,C),(32,27,C,2,1),(40,28,B),(62,28,B,2,1),(178,29,Y),(181,29,B),(182,29,O),
    (0,30,C),(5,31,B),(7,30,C),(10,31,C,3,1),(14,31,C),(18,32,B),(22,32,C),(24,33,C),(38,31,B),(44,30,O,1,2),(45,30,C),(178,32,C),(181,32,L,2,1),(185,32,C),(2,34,C),(13,34,C),(18,34,B),(22,35,B),(36,34,C),(40,34,B),(47,35,B),(42,34,C,1,1),
    (4,36,C),(14,35,C),(20,36,C),(25,35,C),(30,36,C),(60,35,C,1,2),(64,36,C),(62,37,B),(65,37,C),(1,37,B),(7,37,B),(10,37,B,1,2),(12,37,C),(17,37,B),(19,38,C),(25,37,B),(30,38,C),(40,38,C,2,1),(47,37,C),(51,37,C),(76,38,B),(80,38,B),(86,38,C),(94,38,B,2,1),(98,38,B),
    (6,40,C),(12,40,C),(17,40,B),(26,40,B),(34,40,C,1,2),(38,40,B,1,2),(47,41,T),(50,41,B),(64,42,B),(0,43,C),(15,42,C,2,1),(22,42,C),(28,43,T),(27,43,O),(36,42,C),(40,42,B),(53,43,C,2,1),(60,43,B),(67,43,C),(168,43,C,2,1),(170,43,R),
    (2,45,C),(4,45,B),(7,45,B),(22,46,C),(28,45,O),(29,46,C),(30,46,B),(38,47,B),(41,46,C),(47,46,C),(50,46,C),(54,45,B),(64,45,T),(178,44,O,1,2),(181,45,T,2,1),(2,48,B),(7,48,B),(22,47,C),(44,47,C),(54,47,R),(56,47,Y),(50,49,O),(48,50,O),(49,49,G),
    (38,48,C),(41,49,T),(42,48,B),(64,49,T),(20,49,C),(168,48,L),(169,48,T),(171,48,O),(172,49,R),(4,51,C),(20,52,C,1,1),(25,51,C,2,1),(35,51,C),(43,51,B,1,1),(47,52,B),(53,51,B),(55,51,B),(59,52,B,2,1),(61,52,C),(64,52,B),(67,52,B),(4,54,B),(35,54,C),(42,54,C),(50,53,O),(51,54,G),(62,54,C),(67,54,T,1,1),(146,52,C),
    (2,54,C),(20,56,T),(22,54,C),(42,55,O),(46,56,B),(58,55,B),(4,57,C),(64,55,B),(51,56,C),(53,57,C),(63,56,C),(67,56,O,1,1),(0,58,B),(2,58,C),(7,58,C,1,2),(10,58,B),(25,59,T),(28,58,C),(35,59,C),(37,61,C),(41,58,T),(47,58,C),(53,58,L,2,1),(57,60,C),(65,60,C),(58,61,C),
    (114,52,Y,1,1),(138,51,B),(140,51,L),(141,51,C),(123,57,B),(131,57,B),(139,57,T),(146,57,T),(149,57,T),(139,58,O,1,2),(141,58,O,1,2),(139,59,W),
    (19,61,C),(25,63,C),(20,65,C),(26,61,C),(35,61,T),(32,63,C),(51,62,L,1,2),(54,61,C),(7,64,C),(22,67,C),(26,66,B,1,1),(28,66,B),(37,64,C),(41,65,T),(42,66,T,1,1),(51,66,T),(52,66,B),(54,66,T),(50,65,C),(47,66,T),(47,67,T),(50,68,C),(54,68,T,3,1),
    (115,68,D),(126,68,C),(129,68,O),(133,68,C),(147,68,B),(20,66,C),(19,67,C),(25,67,B),(42,68,C),
    (73,66,B),(78,66,C),(81,66,C),(88,66,C,2,1),(91,66,C,2,1),(95,66,B),(97,66,B),(105,66,B),(71,68,C,2,1),(74,69,B),(75,70,C),(82,69,C),(83,70,B),(88,71,B),(94,71,B,1,1),(101,70,B,1,2),(104,70,T),(99,71,T,3,1),(103,71,C,1,2),(75,72,C,1,1),(83,71,B,1,1),(84,70,B),(95,72,B,1,1),
    (66,72,B),(69,74,B,1,1),(71,74,C),(75,74,B),(81,73,C),(84,75,C,2,1),(91,73,C),(96,73,C),(99,72,B),(92,72,C),(104,74,T),(70,75,C),(74,75,B),(82,74,B),(83,74,C),(90,75,C),(95,75,B),(97,75,C),(98,74,C),(101,75,B,1,1),(104,75,C),
    (72,76,C),(76,77,C),(79,77,C),(86,76,L,1,1),(88,76,C,1,1),(90,77,C),(92,76,B),(99,76,B),(101,76,B,2,1),(103,77,B),(66,78,B),(69,77,C),(73,79,C),(78,79,B),(74,77,B),(80,78,B,2,2),(84,77,C),(84,78,B),(96,78,B),(97,78,C),(99,78,C,1,2),(104,79,B),(66,81,B,1,1),
    (72,81,C,2,1),(76,81,C,1,1),(79,80,C),(82,80,C,1,1),(85,79,C),(89,80,B,2,1),(90,81,C),(92,80,C,1,2),(95,81,C),(98,81,C),(104,82,B),(66,83,B),(70,82,B),(74,82,T),(76,83,C),(78,83,B),(81,81,C),(83,82,C),(88,82,C),(92,83,B),(96,83,C),(99,83,B),(105,82,B,1,1),(103,83,C),(100,84,T),
    (70,84,C,2,1),(76,84,B,1,1),(77,86,C),(84,85,C),(87,84,B),(90,84,C),(94,85,C),(96,84,B),(102,85,T,1,2),(88,86,C),(77,87,B),(82,87,B,2,1),(84,88,C,1,1),(89,87,C),(104,88,C),(105,87,C),(66,89,C,1,2),(73,90,C),(78,89,B),(80,89,C),(84,89,C),(88,89,C),(90,90,C),(94,89,T),(100,89,T),(105,89,B),
    (66,92,B,1,2),(73,92,B),(76,92,C),(82,91,B),(85,91,T,1,3),(79,93,C),(89,91,C),(94,92,B),(99,93,C),(100,91,C),(102,92,C),(65,93,B),(77,93,C),(80,93,C),(84,93,C),(90,94,C),(96,94,C),(100,94,T),(87,95,C),
    (70,95,B,2,1),(74,96,C),(75,95,C),(78,96,C),(85,94,B),(86,95,C),(88,95,L,2,1),(102,95,C),(105,95,C,1,1),(89,96,C),(65,96,C),(79,97,C),(82,96,C),(86,96,B),(96,97,C),(99,97,C),(102,97,C),(104,97,C),(105,96,T),(66,98,B),(73,98,C),(75,99,T),(79,99,C),(86,98,T,2,1),(103,98,C),(105,98,T),
    (69,100,L,2,1),(71,100,C),(72,101,T,1,1),(75,99,C),(82,100,B),(94,100,C),(101,100,T),(103,99,C),(105,101,C),(70,102,B,2,1),(76,102,C),(80,102,C),(84,103,C),(95,102,B,1,1),(101,102,L),(102,102,T,1,2),(105,102,T),(83,103,C),(70,104,T),(72,103,C,1,1),(75,104,C),(79,105,C),(82,104,T),(88,105,C),(96,104,T,1,1),(101,104,C),(105,104,C),
    (66,106,B),(74,106,C),(81,106,B),(88,106,B),(89,105,C),(96,106,C),(97,105,C),(100,106,C),(103,106,T),
    (108,107,T),(113,107,C),(120,107,C,2,1),(122,107,T),(127,107,B),(132,107,B,2,1),(135,107,C),(141,107,T),(143,107,B),(147,107,C,2,1),(150,107,B),(120,109,T,2,1),(122,108,C,1,2),(125,108,T),(129,109,C),(133,108,C),(136,108,B,1,1),(139,110,C),(143,108,C),(107,110,C),(108,109,C),(151,109,B),(151,110,C,1,2),(120,110,C),(133,110,B),
    (126,112,R),(128,110,C),(137,110,C),(143,112,R),(131,111,C),(133,112,B),(147,110,C),(113,113,B,2,1),(117,113,T,2,1),(122,113,G),(112,114,C),(125,113,C),(135,113,C),(139,113,C),(148,113,C),(107,114,C),(122,114,G),(138,114,O,1,2),(142,114,T),(147,115,C),(146,116,R),(124,115,T),(126,116,B),(113,116,C),(116,116,B),
    (112,117,C,1,2),(117,117,T),(116,118,C),(125,117,T),(130,118,C,1,2),(133,117,C),(131,118,C,1,2),(147,117,C),(149,116,C),(113,118,C),(120,118,C),(125,118,B),(145,119,C),(150,119,C),(119,119,C),(130,119,B),(107,121,T,2,2),(109,121,T,1,2),(116,121,C,2,1),(122,120,C),(123,121,B,1,2),(144,120,B),(135,120,C),
    (113,122,C),(120,121,T),(133,121,C),(108,123,C,2,1),(119,123,C),(120,122,C),(147,123,C),(150,122,C),(134,122,C),(112,124,C),(124,123,C),(137,123,T),(144,123,C,1,1),(147,124,B),(150,124,C,2,1),(119,124,T),(122,124,C),(135,124,C),(146,124,C),
    (109,126,C),(113,125,C),(115,126,T),(117,126,C,2,2),(129,126,G),(130,125,C),(132,127,C),(140,125,C),(145,126,C),(147,126,B),(125,127,B),(128,127,C),(143,127,T),(111,127,R),(112,127,T),(130,128,C),(107,128,C),(117,128,G),(113,128,C,1,1),(133,128,T),(136,128,C),(139,128,B),(141,128,C),(143,128,C),(146,128,C),
    (129,129,G),(132,130,T),(136,129,C),(145,130,C),(124,131,T),(127,130,C,1,1),(133,131,C),(107,131,C),(110,132,C),(118,132,T,2,1),(137,131,C),(149,131,B),(107,133,B),(110,134,C),(113,134,C,1,1),(127,132,C),(118,133,C),(132,133,C),(137,132,B),(149,132,B),(151,132,B),(109,134,C,2,1),(117,134,C,2,1),(132,134,C),(137,134,C),(139,134,C,1,1),(141,133,C),
    (149,134,C),(107,135,T),(109,135,C,2,1),(113,135,C),(120,135,T,1,1),(124,136,C),(129,135,G),(130,135,C),(146,135,T),(142,136,C,1,2),(145,136,O),(147,135,C),(148,135,C),(151,136,C),(113,137,C,1,1),(115,137,B),(123,137,B),(130,137,C),(132,137,T),(114,138,O),(131,139,C),(147,137,C),(143,139,C),(146,138,B),(150,137,C),
    (146,139,B),(128,139,B),(128,140,C),(131,139,C),(149,138,T),(107,141,O,1,2),(121,141,C,2,1),(128,141,C),(107,143,C),(111,144,R),(115,143,T),(129,143,T),(134,144,C),(141,143,B),(146,143,C),(107,145,B),(109,145,T),(119,145,C),(124,145,C,1,1),(130,144,C),(123,146,C),(127,145,C),(134,145,C),(136,146,C),(139,145,T),(143,145,B),
    (115,147,R),(107,147,C),(121,147,T),(124,146,C),(124,147,O,2,1),(128,148,B),(131,147,C),(136,147,T),(138,148,C),(138,146,C),(147,146,C),(113,148,T),(121,148,C,1,1),(123,149,C,1,2),(131,149,C),(137,148,T),(148,149,B),(136,150,C),(140,149,C),(148,149,C),(118,150,C),(129,150,B),(133,150,B),(135,150,C),(144,150,C),(147,150,C),
    (107,151,B,2,1),(109,151,C,2,1),(130,151,B),(133,150,C),(136,151,C),
    (152,151,T,4,4),(152,151,R),(153,151,R),(155,151,R),(152,152,R),(152,153,R),(153,152,D),(154,153,D),(155,154,D),(153,151,O),
    (157,155,L,4,1),(157,156,B,1,3),(160,155,B,1,3),(158,157,C,2,2),(158,157,D),(163,155,C),(164,155,B,3,1),(164,156,B,1,3),(157,160,B),(160,160,C),(161,159,C,2,2),(164,160,C,2,3),(157,162,B,1,3),(158,162,B,3,1),(161,163,C,3,2),(165,162,C,2,2),(163,162,C),(164,163,C),(165,164,B),
    (171,166,O),(170,167,T),(169,168,T),(172,168,O,1,2),(168,169,T),(167,170,R),(168,172,G,2,1),(173,173,T,4,4),(174,174,D),(175,175,D),(176,176,D),(173,173,D),
    (178,177,C,2,1),(182,177,C,2,1),(185,177,B),(176,180,L,1,2),(178,178,B),(179,179,C),(182,178,L,3,2),(180,180,B),(184,180,B),(181,180,C),(177,181,B),(183,180,C,1,1),(185,180,B,1,1),(176,184,C,1,2),(179,183,C,2,2),(184,182,C),(182,184,B),(183,183,C),(186,183,C),(176,187,C,2,1),(178,186,C),(179,187,L),(181,187,C),(183,186,C),(184,187,C),(185,184,C),
    (187,186,T,5,4),(187,187,D),(188,188,D),(189,189,D),(190,190,D),
    (181,43,C),(8,155,C),(8,158,T),(8,160,C),(3,158,C,1,2),(3,160,C),(3,162,C),(42,116,B),(1,149,T,1,2),
    (3,159,T,1,6),(1,172,T,1,4),(15,166,C),(15,169,C),(23,178,C),(23,180,B,1,2),(23,184,C),(29,177,R),(29,180,T),(29,181,O),(32,178,C),(32,180,B,1,2),(32,184,C),(44,177,O),(44,179,T,1,2),
    (43,164,T,1,2),(43,166,C,1,1),(43,168,R),(48,164,C,2,1),(48,165,B),(48,167,G,2,1),(48,170,O),(57,118,B),(68,117,B),(52,114,W),(8,117,C),(8,122,B),(8,125,B),(8,127,T),(8,144,C),(8,149,B),(57,124,B),(57,130,B),(52,137,B),(52,139,B),(52,141,O),(57,137,T),(58,139,O,2,1),(59,139,R),(58,141,G,2,1),(57,145,T),(57,148,O),(68,126,T),(68,129,O),(68,133,C),(68,147,B),
    (17,79,C,1,2),(39,76,B),(39,80,B),(39,86,C),(17,89,C),(17,96,C),(39,94,C,1,2),(39,97,B),(39,99,B),
]

c2_cells = [
    (8,0,C),(13,1,C),(14,2,T,2,1),(17,1,B),(21,0,B),(24,2,C),(28,2,C,1,1),(39,0,C),(41,0,C),(45,0,C),(46,2,C),(50,3,C),(2,3,C),(18,4,B),(25,5,T),(28,5,C),(14,5,T,2,1),(19,5,C),(41,5,C),(43,2,C),(50,5,C),(21,5,B),(26,3,C),
    (21,7,R),(41,6,R),(8,7,B),(12,7,T,2,1),(16,8,B),(20,7,O),(29,8,C),(32,9,W),(33,9,W),(40,9,T),(45,9,C),(42,10,C),(46,9,C),(0,8,T),(49,10,D),(7,11,C,1,2),(13,10,C),(11,11,C),(19,10,T),(25,11,C,2,2),(27,11,C,1,2),(32,10,B),(45,11,R,1,1),(42,11,C),
    (1,13,C),(2,14,T,1,2),(4,14,T,1,2),(8,15,C),(11,14,C),(15,14,C),(17,14,C,1,2),(18,13,C),(44,13,C),(48,13,C),(7,16,C,2,1),(14,16,C,2,1),(1,17,B),(28,16,C),(40,16,C),(46,16,C),(2,17,C,2,1),(14,17,C),(30,18,T),(37,19,C),(42,18,C),(43,19,C),(48,18,C,2,1),(31,19,B),
    (6,21,C),(28,18,B),(35,18,B),(10,20,T),(13,19,C),(41,19,B),(3,20,C),(45,20,T),(3,19,C),(1,22,B),(7,21,C,1,1),(11,21,T,2,1),(25,21,O),(40,22,T),(4,24,C),(7,22,R),(6,22,R,2,1),(23,21,O),(30,22,B),(41,21,C),(49,22,C),(44,22,T),(31,23,C),(34,24,C),(33,22,C),(36,24,C),
    (0,24,C),(9,24,C),(16,24,G),(18,23,C),(24,23,O),(27,24,O),(31,25,C),(40,24,C),(47,24,C,1,1),(20,25,G),(26,25,O),(49,25,O,1,2),(2,26,C),(5,26,C),(11,25,C,2,1),(11,27,C),(20,26,G),(27,26,O),(37,27,C),(43,26,B),(21,27,T),(30,26,C),(34,26,B),(40,25,C),(44,26,C),(49,27,C),
    (1,27,C),(2,27,B),(8,28,C),(12,28,C),(17,27,C),(20,28,B),(22,28,C),(26,28,B),(31,29,C),(34,28,C,2,1),(43,27,B),(47,27,C),(6,29,C),(15,29,C),(22,29,C),(25,29,B),(0,30,C),(5,30,C),(4,30,C,2,1),(11,29,C,2,1),(21,30,C),(32,30,C),(42,30,B),(47,29,C),(0,31,C),(50,30,C,1,1),(4,31,B),(15,31,C),(23,31,T),(25,32,B),(32,31,T),(43,31,C,2,1),(48,31,C),
    (3,33,B),(9,33,C),(8,32,B),(19,33,C),(23,33,C),(26,33,C),(42,33,C),(46,32,C),(49,32,C,1,1),(0,33,C),(2,32,C),(5,33,C),(10,34,C),(17,33,T),(22,34,O),(27,33,C),(44,33,T),(40,34,T),(47,34,C),(25,33,B),
    (9,34,O),(8,34,W),(9,35,W),(33,33,C),(34,35,B),(36,34,C),(42,36,C),(30,34,C),(18,36,B),(22,36,C),(23,36,C),(26,36,C),(32,36,C),(35,34,C,2,1),(45,36,B,1,1),(47,36,C,1,2),(50,36,C),
    (32,35,B),(33,35,C),(36,35,T),(35,36,O),(36,36,G),(37,36,T),(38,36,R),(39,37,G),(38,37,W),(38,38,O,1,1),(36,37,T),(40,37,G,1,3),(33,38,B),(33,39,C),(34,39,Y),(36,39,B),(35,38,R,1,1),(36,40,G,3,1),(33,41,O),(44,41,C),
    (0,40,T),(10,42,T),(17,41,C),(21,41,B),(22,42,T),(29,41,T),(0,43,C),(3,42,C),(6,43,R),(10,44,C),(16,41,C),(22,43,C),(24,42,T),(29,42,B),(30,43,C),(33,43,B),(40,42,C),(47,41,C),(49,42,C),(0,44,C),(3,45,B),(5,44,C),(10,46,C),(18,45,C),(19,44,C),(25,44,C),(32,45,C),(38,44,C),(40,45,C),(47,44,O),(50,45,C),
    (18,46,O),(23,45,O),(29,47,C),(30,45,O),(34,46,G),(44,47,C),(1,47,B),(8,46,C),(2,48,B),(7,48,B),(13,47,B),(23,47,C),(25,49,C),(28,48,C),(35,47,T),(47,47,C),(17,47,C),(11,48,G),(44,49,C),(18,49,C),(33,49,C),(27,49,T),(26,47,C),(34,47,C),(2,50,B),(5,50,C),(10,50,C),(18,50,B),(26,50,C),(35,49,G),(46,50,C),(48,50,C),
    (53,50,C,2,1),(64,50,C),(70,51,B,1,1),(78,50,B,1,2),(86,50,C),(87,50,O),(88,51,C),(51,52,B),(58,52,C),(65,53,C),(66,50,B),(68,53,B),(52,54,C),(55,54,C),(60,55,B),(62,54,C),(67,54,B),(72,54,C),(75,53,C),(78,53,B),(81,54,C),(84,54,B),(87,53,C),(90,54,C),
    (52,57,B,1,2),(54,57,C),(58,57,C,1,1),(61,56,C,2,1),(64,57,B),(68,57,B,1,1),(70,57,C),(73,55,C),(75,56,C),(80,56,C),(85,56,T),(89,56,C),(56,59,C),(60,60,C),(62,59,B),(64,59,B),(67,58,C),(70,59,B),(73,60,C),(76,58,C),(82,59,C),(86,58,B),(87,59,C),
    (52,61,C),(56,62,C),(59,61,C,1,1),(62,61,B),(64,60,C),(71,61,C,1,3),(72,60,B),(77,61,C),(83,61,C),(87,61,C),(90,60,C),(86,62,C),(56,63,B),(58,63,C),(62,63,C,1,1),(66,63,B),(73,64,C),(81,63,B),(83,63,C),(87,63,B),(90,64,B,1,1),(54,66,C,1,1),(52,65,C),(51,67,C),(53,67,C),(56,67,C,1,1),(56,66,C),(71,66,C),(74,67,C),(78,68,C,1,1),(84,67,C),(87,67,B),
    (86,66,C,1,1),(90,66,C),(60,68,C,2,1),(64,68,C),(66,69,C),(71,69,B),(79,69,C),(81,69,C),(85,69,C),(87,69,B,1,2),(59,70,C),(63,69,B),(72,71,B,2,1),(75,71,B),(78,72,C),(83,70,C),(85,71,C),(61,73,C),(65,72,B),(73,71,C),(76,72,C),(81,72,C),
    (56,74,C),(59,73,B),(62,74,C),(66,75,B),(70,72,C),(72,73,B,3,1),(78,73,C),(84,74,C),(56,76,C),(62,76,B),(65,75,C),(73,75,C),(76,75,C),(77,72,C),(87,75,C),(89,76,C),(63,76,C),(69,78,C),(74,77,C),(85,76,B),(86,77,C),
    (60,79,B),(63,79,C),(70,78,C),(78,80,B),(82,78,C),(88,78,C),(59,80,B),(62,81,B,1,1),(64,81,C),(73,81,C),(76,79,C),(79,81,C),(84,82,C),(90,80,B),(58,82,C,1,2),(63,83,B),(68,82,T),(70,83,C),(75,83,C),(80,82,B),(86,83,C),(90,83,C),
    (84,84,C,1,1),(87,85,C),(59,84,T),(69,84,B),(74,85,C),(77,84,C),(79,86,C),(82,85,C),(90,86,B),(56,85,C),(51,85,C),(53,87,C),(61,86,C),(65,87,C),(72,87,C),(76,86,C),(81,88,C),(85,87,B),(89,87,T),
    (57,88,B),(59,88,B,1,1),(62,88,B,1,1),(68,89,C),(73,88,B),(79,89,C),(84,89,B),(51,89,C),(54,89,T),(55,88,C),(65,90,C),(71,89,C),(72,90,C),(76,90,C),(87,89,B),(80,90,C),(85,90,C),(56,91,C,2,1),(63,91,C),(69,91,B),(82,91,C),(84,92,C),(87,92,B),(89,92,C),(53,92,C),(65,92,C),(58,92,B),(71,92,C),
    (92,90,C),(94,90,C,2,1),(97,90,T),(99,90,O),(92,92,O),(94,91,T,3,1),(100,92,R),(93,93,C),(94,93,C,3,3),(95,93,D),(92,94,C),(99,93,C),(100,94,T),(97,95,C),(93,96,G),(98,95,R),(92,96,R),(96,96,R),(94,97,R),(99,96,G),(97,97,G,2,1),
    (100,101,T,4,4),(100,102,D),(101,102,D),(102,103,D),(103,104,D),
    (105,105,C,2,1),(107,105,L,2,1),(112,104,C),(114,105,L,3,1),(105,106,B,1,3),(108,106,B,1,2),(106,106,C,2,2),(106,107,D),(109,106,L),(111,106,C),(114,106,B,1,3),(115,106,C,2,2),(105,109,L,1,3),(106,109,B,3,1),(107,110,C,2,2),(110,108,B),(112,108,C,2,2),(114,109,C),(115,108,D),(115,109,C,2,3),(111,111,C),(111,110,C),(114,112,L,2,1),(112,112,C),
    (116,110,C,1,1),(113,110,C),
    (124,116,C),(129,116,C,2,1),(134,116,C),(138,116,C),(141,116,C),(144,116,B),(149,117,C),(152,116,B),(156,118,C),(160,116,C),(165,116,C),(118,125,C),(122,118,C),(126,118,C),(128,118,C),(133,118,C),(136,118,B),(143,118,C),(146,118,C),(150,118,C),(162,118,C,2,1),(154,118,C),
    (118,120,C),(119,120,B),(122,120,C),(126,120,C),(128,120,C),(133,120,B),(139,120,C),(142,120,T),(148,120,C),(157,120,B),(160,120,C),(163,120,C),(165,120,C),(118,122,C),(120,122,B),(124,122,C),(127,122,C),(130,122,C),(131,123,C),(137,122,B),(141,122,C),(144,122,B),(146,122,T),(148,123,C),(157,123,B),(160,124,C,2,1),(166,121,C,1,1),
    (121,126,C),(127,127,C),(131,126,C),(137,125,C),(139,127,C),(141,127,C),(145,127,B),(148,126,C),(154,127,C),(118,128,C),(122,128,T),(131,128,C),(135,128,C),(142,128,C),(145,129,B),(150,128,C),(153,130,C),(157,127,C),(166,127,B),(118,130,C),(122,130,B),(127,129,C),(132,130,C),(138,130,C),(149,130,B),(154,130,B),(166,129,C),
    (118,132,C),(119,132,B),(120,133,C),(124,133,C),(127,133,C),(130,132,B),(132,133,C),(135,134,C),(137,133,T),(140,132,B),(142,133,C),(146,131,B),(150,131,B),(151,133,C),(157,134,C),(160,134,B),(162,133,C),(166,133,B),(120,135,C,2,1),(123,135,T),(128,135,T),(133,135,C),(138,135,B),(143,134,C),(149,135,C),(153,135,C),(156,135,C),(159,136,C),(165,136,C),
    (118,137,B),(120,137,B),(122,137,B),(124,137,T),(127,137,C),(130,137,C),(133,137,C),(137,137,B),(141,137,C),(147,136,C),(150,136,C),(153,137,C),(156,137,T),(158,135,B),(160,136,C),(163,137,C),(119,139,B),(122,139,C),(126,138,C),(128,138,C),(131,139,C),(136,139,B),(141,139,C),(145,139,C),(149,138,C),(154,139,B),(162,139,C),(164,139,C),
    (118,141,T,1,2),(121,141,C),(130,140,B),(140,141,C),(147,139,C),(149,140,B),(153,141,C),(158,141,C),(164,140,B),(166,142,T),(118,144,O),(120,144,C),(124,143,C),(136,144,C),(139,144,T),(146,144,C),(151,143,B),(155,143,B,3,1),(160,143,C),(163,142,C),(167,144,C),
    (120,146,C),(125,145,C),(134,146,C),(150,146,C),(155,146,B),(158,146,R),(162,147,T),(166,147,T),(128,148,C),(133,147,C),(139,148,T),(144,148,C),(151,148,C),(156,148,B),(160,148,C),(165,148,C),(120,150,C),(124,149,C),(134,150,C),(137,149,B),(139,150,B),(145,149,B),(149,149,B),(153,150,C),(156,150,C),(158,149,B),(162,149,C),(166,149,C),
    (120,152,C),(125,152,B),(132,152,T),(144,153,B),(147,151,C),(152,152,C),(159,152,R),(162,152,C),(163,153,C),(166,152,C),(120,154,C,1,2),(123,154,C),(133,154,C),(137,155,C),(147,154,T),(150,155,B),(154,155,B),(157,156,C),(165,154,C),(118,156,T),(120,157,C),(131,157,C),(139,157,T),(141,155,C),(144,156,C),(151,157,B),(157,155,C),(164,156,C),
    (118,158,B),(120,159,C),(123,158,C,1,2),(127,157,C),(135,158,C),(140,159,C),(145,158,C),(148,158,B),(156,159,T),(157,159,C),(160,158,C),(162,157,C),(120,160,C),(123,160,C),(131,160,C),(134,159,C),(146,160,C),(151,161,T,1,2),(153,161,C),(158,160,T),(163,160,C),(165,159,C),(151,158,O),(154,158,B),(132,161,C),(135,161,B),(140,160,B),(143,161,C),
    (170,167,T),(172,167,C),(175,167,O),(178,167,C),(171,169,C),(168,168,C),(170,169,B),(168,169,B,1,3),(172,169,C),(174,169,C,2,1),(177,169,C,3,1),(180,169,C,1,1),(168,171,T),(172,171,T),(174,172,L,3,1),(178,170,C,1,3),(169,173,O),(171,172,C),(172,173,B,1,2),(174,173,C,2,2),(170,174,R),(178,174,O),(169,175,C),(172,175,C,2,1),(177,176,C),(169,176,O),(172,177,C,3,1),(176,177,T),(168,178,O),
    (171,178,B,1,2),(172,178,C),(175,178,G),(178,177,C),(168,179,C),(171,179,C,3,1),(177,179,C),(179,179,C),
    (182,180,C),(184,179,R),(186,179,O),(182,181,R),(183,181,C,3,3),(182,182,O),(183,182,D),(184,183,D),(185,184,D),(182,183,R),(182,184,R),
    (187,186,T,5,5),(187,187,D),(188,188,D),(189,189,D),(190,190,D),
]


def build_matrix(n, cells):
    z = np.zeros((n, n))
    for cell in cells:
        c, r, v = cell[:3]
        w, h = cell[3:] if len(cell) == 5 else (1, 1)
        z[r:r + h, c:c + w] = v
    return z


# (cells, grid size, left, right, top, bottom of the panel in px)
matrices = [
    (a1_cells, 196, 139, 839, 27, 722),
    (b1_cells, 127, 1051, 1755, 28, 718),
    (c1_cells, 192, 1960, 2664, 27, 722),
    (a2_cells, 196, 139, 839, 900, 1594),
    (b2_cells, 127, 1045, 1755, 900, 1590),
    (c2_cells, 192, 1960, 2664, 900, 1594),
]

oa_labels = ["OA = 84.62", "OA = 87.88", "OA = 91.34", "OA = 87.01", "OA = 94", "OA = 93.78"]
captions = ["(a) Xuzhou", "(b) Longkou", "(c) PaviaC"]

xuzhou_x = list(range(1, 196))
xuzhou_a = [
    .91,.78,.795,.84,.835,.87,.85,.86,.89,.905,.95,.97,1.02,1.07,1.09,1.1,1.105,1.035,1.04,.90,
    .955,1.01,1.0,1.015,.945,.92,.91,.855,.805,.78,.765,.70,.785,.705,.71,.78,.97,.78,.775,.705,
    .88,.825,.88,.825,.785,.76,.80,.805,.82,.905,.985,.89,1.055,.98,.905,.84,.97,.91,.925,.96,
    .95,.86,.88,.795,.83,.755,.80,.92,.805,.87,.885,.90,.89,.865,.755,.84,.89,.955,.90,.92,
    .88,.86,.815,.88,.89,.97,.98,1.065,.96,.90,.93,.95,.945,.96,.96,.98,.96,.985,.96,.97,
    .955,.94,1.01,1.02,1.04,1.02,1.02,1.01,.99,1.02,1.03,.985,.97,.95,.965,.95,.96,.975,1.0,1.06,
    1.07,1.09,1.06,1.06,1.0,1.0,.96,1.0,1.035,1.02,1.025,1.0,.955,.97,.955,1.03,1.03,1.04,1.05,1.03,
    1.03,1.05,1.055,1.03,1.045,1.03,1.03,.98,.97,.96,.945,.97,.98,.99,1.0,.99,.98,.975,.96,.955,
    .95,.94,.865,.92,.915,.93,.97,.96,.90,.85,.85,.84,.82,.775,.74,.775,.745,.785,.70,.78,
    .89,.84,.955,.885,.78,.85,.90,.93,1.04,1.04,1.04,1.03,1.04,1.055,1.05,
]
xuzhou_hpcdl = [1.0] * len(xuzhou_x)

longkou_x = list(range(0, 127))
longkou_a = [
    1.0,1.0,1.02,1.05,1.04,1.045,1.06,1.035,.985,.89,.90,.975,1.05,1.055,1.055,1.02,1.02,1.0,1.035,1.03,
    1.015,1.0,1.005,.995,.985,1.0,.99,.965,.88,.90,1.05,1.12,1.105,1.09,1.075,1.025,.99,.99,.975,.985,
    1.0,1.025,1.065,1.06,1.05,.985,.93,.92,.94,.95,.955,.96,.965,.96,.96,.965,.965,.97,.97,.97,
    .965,.965,.94,.965,1.03,1.05,1.06,1.035,1.01,.975,.985,.97,.955,1.03,1.035,1.125,1.07,1.06,1.01,.915,
    .895,.925,.925,.905,.89,.875,.87,.81,.795,.735,.76,.69,.76,.805,.855,.895,.895,.90,.885,.885,
    .875,.87,.94,1.035,1.115,1.135,1.145,1.13,1.075,1.0,.95,1.04,1.035,1.06,1.07,1.05,.955,.925,.935,.865,
    .91,.91,.88,.85,.83,.91,.945,
]
longkou_hpcdl = [1.0] * len(longkou_x)

paviac_x = list(range(1, 193))
paviac_a = [
    1.09,1.03,1.035,1.09,1.05,1.05,1.12,1.15,1.19,1.14,1.09,1.06,1.0,.93,1.0,1.065,1.065,.955,1.035,.95,
    .855,.86,.885,.945,1.03,1.05,1.03,1.08,1.06,1.05,1.03,1.02,.955,.955,.93,.88,.875,.89,.88,.82,
    .745,.86,.85,.90,.85,.84,.86,.85,.80,.85,.88,.85,.81,.81,.765,.74,.86,.79,.765,.78,
    .79,.80,.805,.86,.85,.81,.84,.82,.78,.885,.865,.81,.75,.81,.89,.87,.86,.87,.865,.85,
    .845,.85,.81,.87,.82,.80,.86,.85,.84,.835,.82,.765,.665,.68,.655,.725,.765,.765,.82,.87,
    .82,.87,.815,.86,.87,.85,.83,.795,.85,.89,.825,.87,.84,.875,.925,.955,1.12,1.11,1.15,1.09,
    1.03,.965,.95,1.0,.965,.945,1.02,1.03,.99,.945,1.06,1.065,1.01,1.045,1.06,.985,.99,1.0,1.0,1.02,
    1.065,1.13,1.255,1.215,1.19,1.18,1.255,1.17,1.215,1.06,1.055,1.03,.96,.955,1.02,1.07,1.07,1.04,.925,.955,
    .955,1.055,1.07,1.13,1.2,1.195,1.21,1.225,1.27,1.24,1.165,1.07,1.03,1.03,.985,.975,1.05,1.14,1.165,1.24,
    1.235,1.195,.985,1.0,.975,.95,.905,.93,.965,.775,1.0,1.03,
]
paviac_hpcdl = [1.0] * len(paviac_x)

# (x, variant, hpcdl, x range, xticks, left, right, top, bottom, legend x, legend y)
line_panels = [
    (xuzhou_x, xuzhou_a, xuzhou_hpcdl, [-5, 200], list(range(0, 201, 25)), 155, 851, 1754, 2183, 601, 1764),
    (longkou_x, longkou_a, longkou_hpcdl, [-5, 126], list(range(0, 126, 25)), 1088, 1783, 1754, 2183, 1534, 1764),
    (paviac_x, paviac_a, paviac_hpcdl, [-5, 200], list(range(0, 201, 25)), 1994, 2689, 1739, 2169, 2236, 1748),
]

fig = go.Figure()
annotations = []
SANS = "Liberation Sans"
SERIF = "Liberation Serif"

for i, (cells, n, left, right, top, bottom) in enumerate(matrices):
    ax = i + 1
    fig.add_trace(go.Heatmap(z=build_matrix(n, cells), colorscale=PARULA, zmin=0, zmax=1, showscale=False,
                             xaxis=f"x{ax}", yaxis=f"y{ax}", hoverinfo="skip"))
    fig.update_layout({
        f"xaxis{ax}": dict(domain=[left / WIDTH, right / WIDTH], visible=False, range=[-0.5, n - 0.5], anchor=f"y{ax}"),
        f"yaxis{ax}": dict(domain=[1 - bottom / HEIGHT, 1 - top / HEIGHT], visible=False, range=[n - 0.5, -0.5], anchor=f"x{ax}"),
    })

oa_pos = [(529, 809), (1411, 809), (2324, 809), (515, 1655), (1395, 1655), (2308, 1655)]
for text, (x, y) in zip(oa_labels, oa_pos):
    annotations.append(dict(text=text, x=x / WIDTH, y=1 - y / HEIGHT, xref="paper", yref="paper", showarrow=False,
                            font=dict(family=SERIF, size=58, color="#111111"), xanchor="center", yanchor="middle"))
for text, x in zip(captions, [459, 1398, 2304]):
    annotations.append(dict(text=text, x=x / WIDTH, y=1 - 2380 / HEIGHT, xref="paper", yref="paper", showarrow=False,
                            font=dict(family=SERIF, size=70, color="#111111"), xanchor="center", yanchor="middle"))

for j, (xs, variant, hpcdl, xrange, xticks, left, right, top, bottom, lx, ly) in enumerate(line_panels):
    ax = j + 7
    legend_name = "legend" if j == 0 else f"legend{j + 1}"
    # background gradient across the whole plot area
    fig.add_trace(go.Scatter(x=[xrange[0], xrange[1], xrange[1], xrange[0]], y=[0.5, 0.5, 1.5, 1.5], fill="toself",
                             mode="none", fillgradient=dict(type="vertical", colorscale=[[0, "#E3E9F4"], [0.75, "#FFFFFF"], [1, "#FFFFFF"]]),
                             showlegend=False, hoverinfo="skip", xaxis=f"x{ax}", yaxis=f"y{ax}"))
    fig.add_trace(go.Scatter(x=xs, y=variant, mode="lines+markers", name="Variant A",
                             line=dict(color="#00009A", width=3), marker=dict(symbol="diamond", size=17, color="#00009A"),
                             xaxis=f"x{ax}", yaxis=f"y{ax}", legend=legend_name))
    fig.add_trace(go.Scatter(x=xs, y=hpcdl, mode="lines+markers", name="HPCDL",
                             line=dict(color="#F44040", width=4), marker=dict(symbol="circle", size=15, color="#F44040"),
                             xaxis=f"x{ax}", yaxis=f"y{ax}", legend=legend_name))
    fig.update_layout({
        f"xaxis{ax}": dict(domain=[left / WIDTH, right / WIDTH], range=xrange, anchor=f"y{ax}", tickvals=xticks,
                           ticks="outside", ticklen=14, tickwidth=3, tickcolor="black", showline=True, linecolor="black", linewidth=3,
                           showgrid=False, zeroline=False, tickfont=dict(family=SANS, size=41, color="black", weight="bold"),
                           title=dict(text="Index of pixels", font=dict(family=SANS, size=46, color="black", weight="bold"), standoff=30)),
        f"yaxis{ax}": dict(domain=[1 - bottom / HEIGHT, 1 - top / HEIGHT], range=[0.5, 1.5], anchor=f"x{ax}",
                           tickvals=[0.6, 0.8, 1.0, 1.2, 1.4], tickformat=".1f", ticks="outside", ticklen=6, tickwidth=3, tickcolor="black",
                           ticklabelstandoff=-3, showline=True, linecolor="black", linewidth=3, showgrid=False, zeroline=False,
                           tickfont=dict(family=SANS, size=41, color="black", weight="bold"),
                           title=dict(text="Degree of pixels", font=dict(family=SANS, size=47, color="black", weight="bold"), standoff=0)),
        legend_name: dict(x=lx / WIDTH, y=1 - ly / HEIGHT, xanchor="left", yanchor="top", bordercolor="black", borderwidth=2,
                          bgcolor="rgba(255,255,255,0)", font=dict(family=SANS, size=33, color="black"), itemwidth=66,
                          tracegroupgap=0),
    })

fig.update_layout(width=WIDTH, height=HEIGHT, margin=dict(l=0, r=0, t=0, b=0, autoexpand=False), paper_bgcolor="white", plot_bgcolor="white",
                  annotations=annotations, showlegend=True)

fig.write_html("out.html", config={"displayModeBar": False},
               post_script="document.body.style.margin='0';document.documentElement.style.overflow='hidden';")
